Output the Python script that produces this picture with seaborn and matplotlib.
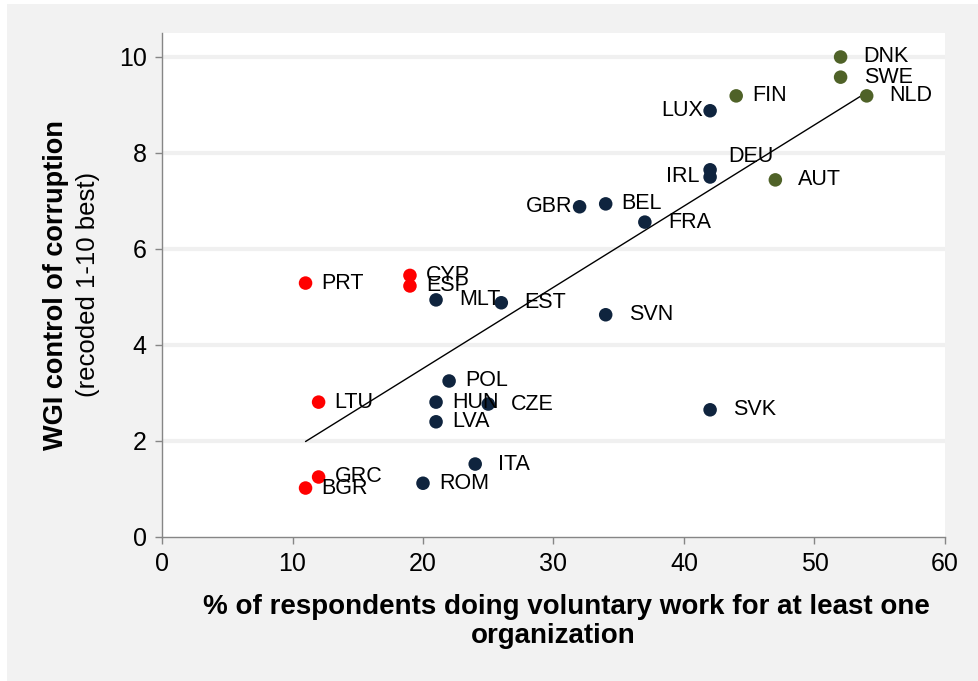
import matplotlib.pyplot as plt
import seaborn as sns
import pandas as pd
from matplotlib.patches import Rectangle

countries = ["DNK", "SWE", "NLD", "FIN", "LUX", "DEU", "IRL", "AUT", "GBR",
             "BEL", "FRA", "PRT", "CYP", "ESP", "MLT", "EST", "SVN", "POL",
             "LTU", "HUN", "CZE", "LVA", "SVK", "ITA", "ROM", "GRC", "BGR"]
volunteering = [52, 52, 54, 44, 42, 42, 42, 47, 32, 34, 37, 11, 19, 19, 21,
                26, 34, 22, 12, 21, 25, 21, 42, 24, 20, 12, 11]
corruption = [10.0, 9.58, 9.19, 9.19, 8.88, 7.65, 7.5, 7.44, 6.88, 6.94, 6.56,
              5.29, 5.45, 5.23, 4.94, 4.88, 4.63, 3.25, 2.81, 2.81, 2.77, 2.4,
              2.65, 1.52, 1.12, 1.25, 1.02]
group = ["high", "high", "high", "high", "mid", "mid", "mid", "high", "mid",
         "mid", "mid", "low", "low", "low", "mid", "mid", "mid", "mid",
         "low", "mid", "mid", "mid", "mid", "mid", "mid", "low", "low"]

palette = {"high": "#4f6228", "mid": "#0f243e", "low": "#ff0000"}

# label placement in pixels: (dx, dy, ha)
label_offsets = {
    "LUX": (-7, 0, "right"), "IRL": (-11, 0, "right"), "GBR": (-7, 0, "right"),
    "DEU": (18, 13, "left"),
}
wide = {"DNK", "SWE", "NLD", "AUT", "FRA", "MLT", "EST", "SVN", "CZE",
        "SVK", "ITA"}


def main():
    df = pd.DataFrame({"country": countries, "vol": volunteering,
                       "wgi": corruption, "group": group})

    sns.set_style("white")
    plt.rcParams["font.family"] = ["Liberation Sans", "DejaVu Sans"]
    plt.rcParams["text.color"] = "black"

    fig = plt.figure(figsize=(9.79, 6.81), dpi=100, facecolor="white")
    fig.patches.append(Rectangle((7 / 979, 0), 1, 1 - 4 / 681,
                                 transform=fig.transFigure,
                                 facecolor="#f2f2f2", edgecolor="none",
                                 zorder=-10))
    ax = fig.add_axes([162 / 979, 1 - 537 / 681, 783 / 979, 504 / 681])
    ax.set_facecolor("white")

    for y in range(2, 12, 2):
        ax.axhline(y, color="#f0f0f0", lw=3, zorder=0)

    sns.regplot(data=df, x="vol", y="wgi", scatter=False, ci=None,
                truncate=True, color="black", line_kws={"lw": 1.0},
                ax=ax)
    sns.scatterplot(data=df, x="vol", y="wgi", hue="group", palette=palette,
                    s=95, edgecolor="none", legend=False, zorder=3, ax=ax)

    for c, x, y in zip(countries, volunteering, corruption):
        if c in label_offsets:
            dx, dy, ha = label_offsets[c]
        else:
            dx, dy, ha = (23 if c in wide else 16), 0, "left"
        ax.annotate(c, (x, y), xytext=(dx * 0.72, dy * 0.72),
                    textcoords="offset points", ha=ha, va="center",
                    fontsize=15.5, color="black", zorder=4)

    ax.set_xlim(0, 60)
    ax.set_ylim(0, 10.5)
    ax.set_xticks(range(0, 70, 10))
    ax.set_yticks(range(0, 12, 2))
    ax.set_xlabel("")
    ax.set_ylabel("")
    ax.tick_params(axis="both", labelsize=18, colors="#868686",
                   labelcolor="black", length=5, width=1, direction="out",
                   bottom=True, left=True, pad=6)
    sns.despine(ax=ax)
    for side in ("left", "bottom"):
        ax.spines[side].set_color("#868686")
        ax.spines[side].set_linewidth(1)

    fig.text(566 / 979, 1 - 607 / 681,
             "% of respondents doing voluntary work for at least one",
             ha="center", va="center", fontsize=20, fontweight="bold")
    fig.text(553 / 979, 1 - 636 / 681, "organization",
             ha="center", va="center", fontsize=20, fontweight="bold")
    fig.text(56 / 979, 1 - 285 / 681, "WGI control of corruption",
             rotation=90, ha="center", va="center", fontsize=19.5,
             fontweight="bold")
    fig.text(88 / 979, 1 - 284 / 681, "(recoded 1-10 best)",
             rotation=90, ha="center", va="center", fontsize=18.5)

    fig.savefig("out.png", dpi=100, facecolor=fig.get_facecolor())


if __name__ == "__main__":
    main()
